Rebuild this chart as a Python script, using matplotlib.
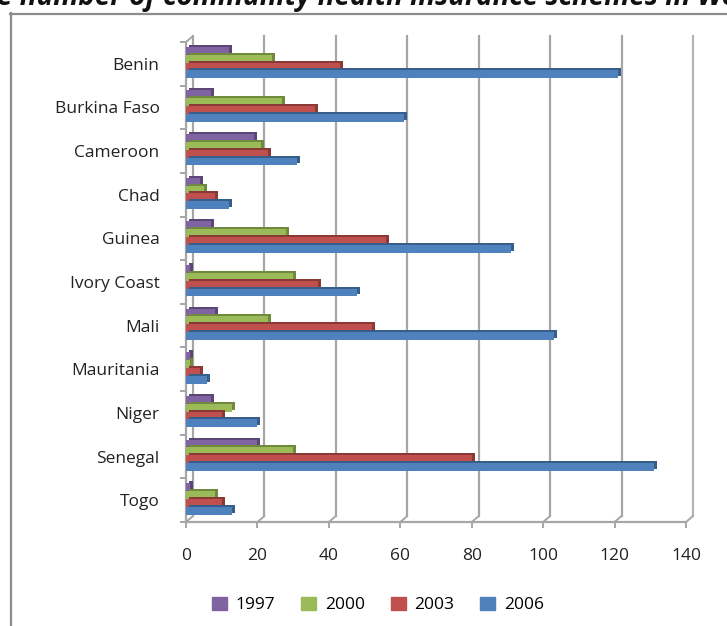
import matplotlib
matplotlib.use("Agg")
import matplotlib.pyplot as plt
import matplotlib.transforms as mtransforms
from matplotlib.lines import Line2D
from matplotlib.patches import Patch
import numpy as np

countries = ["Benin", "Burkina Faso", "Cameroon", "Chad", "Guinea", "Ivory Coast",
             "Mali", "Mauritania", "Niger", "Senegal", "Togo"]
years = ["1997", "2000", "2003", "2006"]
v1997 = [12, 7, 19, 4, 7, 1, 8, 1, 7, 20, 1]
v2000 = [24, 27, 21, 5, 28, 30, 23, 1, 13, 30, 8]
v2003 = [43, 36, 23, 8, 56, 37, 52, 4, 10, 80, 10]
v2006 = [121, 61, 31, 12, 91, 48, 103, 6, 20, 131, 13]
xticks = [0, 20, 40, 60, 80, 100, 120, 140]
title = "e number of community health insurance schemes in West Africa"

colors = ["#8064A2", "#9BBB59", "#C0504D", "#4F81BD"]
darks = ["#5B4677", "#6F8A3C", "#8A3936", "#375D8A"]
grid = "#a6a6a6"

plt.rcParams["font.family"] = ["Open Sans", "DejaVu Sans"]

W, H = 727, 626
fig = plt.figure(figsize=(W / 100, H / 100), dpi=100)
ax = fig.add_axes([186 / W, 1 - 522 / H, 500 / W, 480 / H])
n = len(countries)
ax.set_xlim(0, 140)
ax.set_ylim(n - 0.5, -0.5)
for s in ax.spines.values():
    s.set_visible(False)

# back wall is shifted up/right from the front plane
back = ax.transData + mtransforms.ScaledTranslation(7 / 100, 6 / 100, fig.dpi_scale_trans)
depth = ax.transData + mtransforms.ScaledTranslation(3 / 100, 2 / 100, fig.dpi_scale_trans)

for x in xticks:
    lc = "#b4b4b4" if x == xticks[-1] else grid
    ax.plot([x, x], [-0.5, n - 0.5], transform=back, color=lc, lw=1.6,
            clip_on=False, zorder=0)
    ax.annotate("", xy=(x, n - 0.5), xytext=(7, 6), textcoords="offset pixels",
                arrowprops=dict(arrowstyle="-", color=grid, lw=1.4, shrinkA=0, shrinkB=0),
                annotation_clip=False)
ax.annotate("", xy=(0, -0.5), xytext=(7, 6), textcoords="offset pixels",
            arrowprops=dict(arrowstyle="-", color=grid, lw=1.4, shrinkA=0, shrinkB=0),
            annotation_clip=False)
ax.plot([0, 140], [n - 0.5, n - 0.5], color=grid, lw=1.6, clip_on=False, zorder=1)
ax.plot([0, 0], [-0.5, n - 0.5], color=grid, lw=1.6, clip_on=False, zorder=1)

series = [v1997, v2000, v2003, v2006]
y = np.arange(n)
step = 0.18
bh = 0.18
for i, vals in enumerate(series):
    yy = y + (i - 1.5) * step - 0.03
    ax.barh(yy, vals, height=bh, color=darks[i], transform=depth, zorder=2 + i * 0.1)
    ax.barh(yy, vals, height=bh, color=colors[i], zorder=2.05 + i * 0.1)

ax.set_xticks(xticks)
ax.set_xticklabels([str(t) for t in xticks])
ax.tick_params(axis="x", direction="out", length=4, width=1.4, color=grid,
               pad=15, labelsize=12.5, labelcolor="#222222")
ax.set_yticks(y)
ax.set_yticklabels(countries)
ax.tick_params(axis="y", which="major", length=0, pad=19, labelsize=12.5,
               labelcolor="#222222")
ax.set_yticks(np.arange(n + 1) - 0.5, minor=True)
ax.tick_params(axis="y", which="minor", direction="out", length=4, width=1.4, color=grid)

fig.text(-0.004, 1 - 5 / H, title, ha="left", va="baseline", fontsize=20,
         fontweight="bold", style="italic", color="#111111")

fig.add_artist(Line2D([10.5 / W, 10.5 / W], [0, 1 - 13 / H], transform=fig.transFigure,
                      color="#8c8c8c", lw=1.6))
fig.add_artist(Line2D([10 / W, 1], [1 - 13.5 / H, 1 - 13.5 / H], transform=fig.transFigure,
                      color="#8c8c8c", lw=1.6))

handles = [Patch(color=c) for c in colors]
fig.legend(handles, years, loc="center", bbox_to_anchor=(378 / W, 1 - 605 / H), ncol=4,
           frameon=False, fontsize=12.5, handlelength=0.85, handleheight=0.85,
           columnspacing=1.5, handletextpad=0.5)

fig.savefig("out.png", dpi=100)
